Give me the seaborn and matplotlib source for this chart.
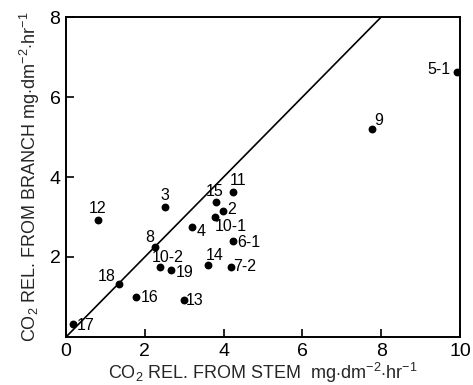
import matplotlib
matplotlib.use("Agg")
import matplotlib.pyplot as plt
import seaborn as sns
import pandas as pd

# Tree identifiers and CO2 release rates (mg dm^-2 hr^-1)
labels = ["17", "18", "16", "12", "3", "8", "4", "10-2", "19", "13",
          "14", "15", "11", "2", "10-1", "6-1", "7-2", "9", "5-1"]
stem = [0.18, 1.34, 1.78, 0.80, 2.52, 2.25, 3.19, 2.39, 2.67, 2.99,
        3.60, 3.82, 4.23, 3.99, 3.79, 4.25, 4.18, 7.77, 9.92]
branch = [0.32, 1.33, 0.99, 2.93, 3.24, 2.26, 2.74, 1.74, 1.68, 0.93,
          1.80, 3.38, 3.63, 3.16, 2.99, 2.40, 1.75, 5.20, 6.63]
# label offsets (pixels) relative to each point
label_dx = [13, -12, 14, 0, 0, -5, 9, 8, 13, 11, 7, -2, 5, 8, 15, 15, 14, 7, -18]
label_dy = [-1, 7, 0, 11, 12, 9, -4, 10, -3, -1, 9, 10, 11, 1, -9, -2, 0, 9, 2]

x_ticks = [0, 2, 4, 6, 8, 10]
y_ticks = [2, 4, 6, 8]

df = pd.DataFrame({"stem": stem, "branch": branch, "label": labels})

sns.set_style("ticks")
plt.rcParams["font.family"] = ["Liberation Sans", "DejaVu Sans"]
plt.rcParams["mathtext.fontset"] = "custom"
plt.rcParams["mathtext.rm"] = "Liberation Sans"
plt.rcParams["mathtext.it"] = "Liberation Sans"

fig = plt.figure(figsize=(4.73, 3.85), dpi=100)
ax = fig.add_axes([0.1395, 0.1247, 0.833, 0.8311])

sns.scatterplot(data=df, x="stem", y="branch", color="black", s=32,
                edgecolor="black", linewidth=0, ax=ax, zorder=3)
ax.axline((0, 0), slope=1, color="black", lw=1.2, zorder=2)

for lab, xv, yv, dx, dy in zip(labels, stem, branch, label_dx, label_dy):
    ax.annotate(lab, (xv, yv), xytext=(dx, dy), textcoords="offset pixels",
                ha="center", va="center", fontsize=11.5, color="black")

ax.set_xlim(0, 10)
ax.set_ylim(0, 8)
ax.set_xticks(x_ticks)
ax.set_yticks(y_ticks)
ax.tick_params(direction="in", length=6, width=1.2, labelsize=14, pad=4,
               colors="black")
for sp in ax.spines.values():
    sp.set_linewidth(1.4)
    sp.set_color("black")

ax.set_xlabel(r"CO$_2$ REL. FROM STEM  mg$\cdot$dm$^{-2}$$\cdot$hr$^{-1}$",
              fontsize=13, labelpad=1)
ax.set_ylabel(r"CO$_2$ REL. FROM BRANCH mg$\cdot$dm$^{-2}$$\cdot$hr$^{-1}$",
              fontsize=13, labelpad=5)

fig.savefig("out.png", dpi=100)
